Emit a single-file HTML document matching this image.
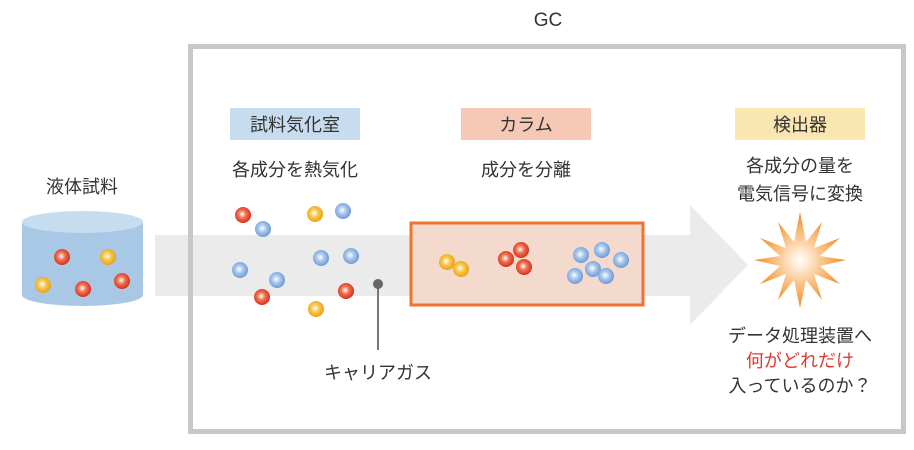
<!DOCTYPE html>
<html><head><meta charset="utf-8"><style>
body{margin:0;width:914px;height:445px;background:#fff;overflow:hidden;font-family:"Liberation Sans","Noto Sans CJK JP",sans-serif;}
</style></head><body>
<svg width="914" height="445" xmlns="http://www.w3.org/2000/svg" font-family="Liberation Sans, Noto Sans CJK JP, sans-serif">
<defs>
<radialGradient id="r" cx="45%" cy="45%" r="55%"><stop offset="0" stop-color="#fff"/><stop offset="0.45" stop-color="#f07050"/><stop offset="1" stop-color="#d8301c"/></radialGradient>
<radialGradient id="y" cx="45%" cy="45%" r="55%"><stop offset="0" stop-color="#fff"/><stop offset="0.45" stop-color="#f8c850"/><stop offset="1" stop-color="#eea010"/></radialGradient>
<radialGradient id="b" cx="45%" cy="45%" r="55%"><stop offset="0" stop-color="#fff"/><stop offset="0.45" stop-color="#a8c8ee"/><stop offset="1" stop-color="#6f9ad8"/></radialGradient>
<radialGradient id="s" cx="50%" cy="50%" r="50%"><stop offset="0" stop-color="#fff"/><stop offset="0.4" stop-color="#fbd0a0"/><stop offset="1" stop-color="#f08a20"/></radialGradient>
</defs>
<text x="548" y="26" font-size="19" text-anchor="middle" fill="#333">GC</text>
<!-- arrow -->
<path d="M155 235 H690 V205 L748 265 L690 325 V296 H155 Z" fill="#ebebeb"/>
<rect x="190.5" y="46.5" width="713" height="385" fill="none" stroke="#c8c8c8" stroke-width="5"/>
<!-- cylinder -->
<path d="M22 222 V295 A60.5 11 0 0 0 143 295 V222 Z" fill="#a8c8e6"/>
<ellipse cx="82.5" cy="222" rx="60.5" ry="11" fill="#c6dcef"/>
<text x="82" y="193" font-size="18" text-anchor="middle" fill="#333">液体試料</text>
<!-- labels -->
<rect x="230" y="108" width="130" height="32" fill="#c8dcef"/>
<text x="295" y="131" font-size="18" text-anchor="middle" fill="#333">試料気化室</text>
<rect x="461" y="108" width="130" height="32" fill="#f5c9b5"/>
<text x="526" y="131" font-size="18" text-anchor="middle" fill="#333">カラム</text>
<rect x="735" y="108" width="130" height="32" fill="#f9e6b0"/>
<text x="800" y="131" font-size="18" text-anchor="middle" fill="#333">検出器</text>
<text x="295" y="176" font-size="18" text-anchor="middle" fill="#333">各成分を熱気化</text>
<text x="526" y="176" font-size="18" text-anchor="middle" fill="#333">成分を分離</text>
<text x="800" y="172" font-size="18" text-anchor="middle" fill="#333">各成分の量を</text>
<text x="800" y="200" font-size="18" text-anchor="middle" fill="#333">電気信号に変換</text>
<!-- column -->
<rect x="411" y="223" width="232" height="82" fill="#f4dacd" stroke="#ee7430" stroke-width="3"/>
<!-- carrier gas -->
<line x1="378" y1="284" x2="378" y2="350" stroke="#777" stroke-width="2"/>
<circle cx="378" cy="284" r="5" fill="#666"/>
<text x="378" y="379" font-size="18" text-anchor="middle" fill="#333">キャリアガス</text>
<!-- star -->
<polygon fill="url(#s)" points="800,212 806,242 822,222 814,248 840,238 820,256 846,260 820,266 840,284 814,274 822,300 806,280 800,308 794,280 778,300 786,274 760,284 780,266 754,260 780,256 760,238 786,248 778,222 794,242"/>
<text x="800" y="342" font-size="18" text-anchor="middle" fill="#333">データ処理装置へ</text>
<text x="800" y="367" font-size="18" text-anchor="middle" fill="#e03a30">何がどれだけ</text>
<text x="800" y="392" font-size="18" text-anchor="middle" fill="#333">入っているのか？</text>
<!-- particles -->
<g>
<circle cx="62" cy="257" r="8" fill="url(#r)"/><circle cx="108" cy="257" r="8" fill="url(#y)"/><circle cx="43" cy="285" r="8" fill="url(#y)"/><circle cx="83" cy="289" r="8" fill="url(#r)"/><circle cx="122" cy="281" r="8" fill="url(#r)"/>
<circle cx="243" cy="215" r="8" fill="url(#r)"/><circle cx="263" cy="229" r="8" fill="url(#b)"/><circle cx="315" cy="214" r="8" fill="url(#y)"/><circle cx="343" cy="211" r="8" fill="url(#b)"/><circle cx="240" cy="270" r="8" fill="url(#b)"/><circle cx="277" cy="280" r="8" fill="url(#b)"/><circle cx="262" cy="297" r="8" fill="url(#r)"/><circle cx="321" cy="258" r="8" fill="url(#b)"/><circle cx="351" cy="256" r="8" fill="url(#b)"/><circle cx="346" cy="291" r="8" fill="url(#r)"/><circle cx="316" cy="309" r="8" fill="url(#y)"/>
<circle cx="447" cy="262" r="8" fill="url(#y)"/><circle cx="461" cy="269" r="8" fill="url(#y)"/>
<circle cx="506" cy="259" r="8" fill="url(#r)"/><circle cx="521" cy="250" r="8" fill="url(#r)"/><circle cx="524" cy="267" r="8" fill="url(#r)"/>
<circle cx="575" cy="276" r="8" fill="url(#b)"/><circle cx="581" cy="255" r="8" fill="url(#b)"/><circle cx="593" cy="269" r="8" fill="url(#b)"/><circle cx="602" cy="250" r="8" fill="url(#b)"/><circle cx="606" cy="276" r="8" fill="url(#b)"/><circle cx="621" cy="260" r="8" fill="url(#b)"/>
</g>
</svg>
</body></html>
